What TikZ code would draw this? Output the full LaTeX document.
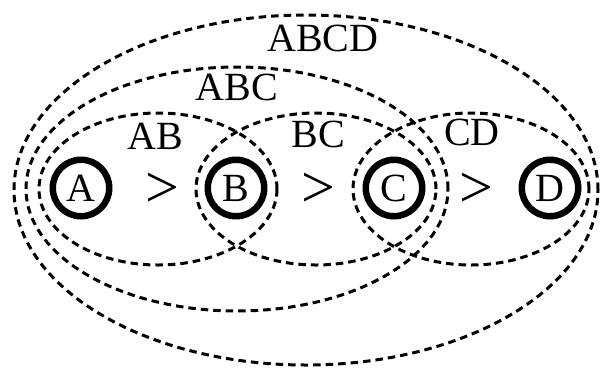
\documentclass[tikz,border=0pt]{standalone}
\usepackage{fontspec}
\setmainfont{Liberation Serif}
\usetikzlibrary{calc}
\begin{document}
\begin{tikzpicture}[x=1pt,y=-1pt,
  circ/.style={circle,draw,line width=6.5pt,minimum size=56.5pt,inner sep=0pt,font=\fontsize{40}{40}\selectfont},
  dsh/.style={line width=3pt,dash pattern=on 7.5pt off 5pt},
  lbl/.style={inner sep=0pt,font=\fontsize{40}{40}\selectfont},
  gt/.style={inner sep=0pt,font=\fontsize{60}{60}\selectfont}]
\useasboundingbox (0,0) rectangle (601,367);
\node[circ] (A) at (81,188) {A};
\node[circ] (B) at (236,188) {B};
\node[circ] (C) at (394,188) {C};
\node[circ] (D) at (550,188) {D};
\node[gt] (g1) at (162,190) {>};
\node[gt] (g2) at (318,190) {>};
\node[gt] (g3) at (476,190) {>};
\draw[dsh] (158,189) ellipse [x radius=119pt, y radius=76pt];
\draw[dsh] (316,189) ellipse [x radius=120pt, y radius=76pt];
\draw[dsh] (471,189) ellipse [x radius=118pt, y radius=76pt];
\draw[dsh] (237,189) ellipse [x radius=211pt, y radius=122pt];
\draw[dsh] (306,190) ellipse [x radius=292pt, y radius=175pt];
\node[lbl] (lABCD) at (323,38) {ABCD};
\node[lbl] (lABC) at (237,87) {ABC};
\node[lbl] (lAB) at (155,136) {AB};
\node[lbl] (lBC) at (318,134) {BC};
\node[lbl] (lCD) at (472,132) {CD};
\end{tikzpicture}
\end{document}
